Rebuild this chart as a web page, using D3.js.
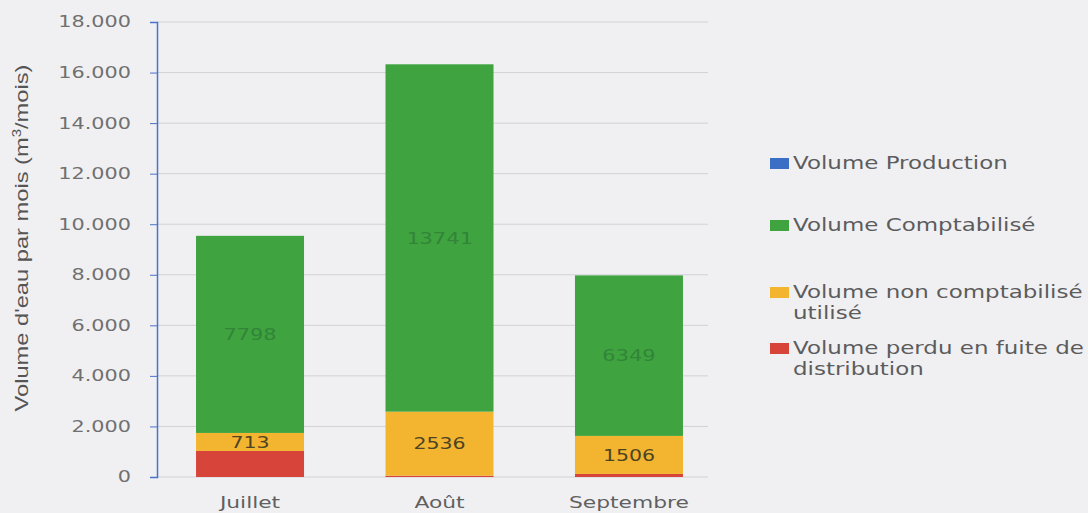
<!DOCTYPE html>
<html>
<head>
<meta charset="utf-8">
<script src="https://cdn.jsdelivr.net/npm/d3@7"></script>
<style>
  body { margin: 0; background: #f0f0f3; }
  svg { display: block; }
</style>
</head>
<body>
<svg id="chart" width="1088" height="513"></svg>
<script>
// data
let months = ["Juillet", "Août", "Septembre"];
let production = [0, 0, 0];
let perdu = [1030, 50, 120];
let nonCompta = [713, 2536, 1506];
let compta = [7798, 13741, 6349];
let yTicks = [0, 2000, 4000, 6000, 8000, 10000, 12000, 14000, 16000, 18000];

let colors = { prod: "#3b6fc6", compta: "#3fa33f", non: "#f3b530", perdu: "#d7453a" };

let svg = d3.select("#chart");

// the photo is wider than tall, so text is stretched a bit
function stretch(sel, k) {
  sel.each(function() {
    let w = this.getComputedTextLength();
    d3.select(this).attr("textLength", w * k).attr("lengthAdjust", "spacingAndGlyphs");
  });
}

let x = d3.scaleBand().domain(months).range([157, 722]).paddingInner(0.43).paddingOuter(0.206);
let y = d3.scaleLinear().domain([0, 18000]).range([477, 22]);

// gridlines
svg.append("g")
  .selectAll("line")
  .data(yTicks)
  .join("line")
  .attr("x1", 157).attr("x2", 708)
  .attr("y1", d => y(d)).attr("y2", d => y(d))
  .attr("stroke", "#d2d2d6").attr("stroke-width", 1);

// y axis
let fmt = d => d === 0 ? "0" : d3.format(",")(d).replace(/,/g, ".");
let yAxis = svg.append("g")
  .attr("transform", "translate(157,0)")
  .call(d3.axisLeft(y).tickValues(yTicks).tickFormat(fmt).tickSize(7).tickPadding(19));
yAxis.select(".domain").attr("stroke", "#4a72c8").attr("stroke-width", 1.5);
yAxis.selectAll(".tick line").attr("stroke", "#4a72c8");
yAxis.selectAll("text")
  .attr("font-family", "DejaVu Sans, Verdana, sans-serif")
  .attr("font-size", 15.5)
  .attr("fill", "#707070")
  .call(stretch, 1.34);

// stacked bars
let stackData = months.map((m, i) => ({ month: m, perdu: perdu[i], non: nonCompta[i], compta: compta[i] }));
let stack = d3.stack().keys(["perdu", "non", "compta"])(stackData);

svg.append("g")
  .selectAll("g")
  .data(stack)
  .join("g")
  .attr("fill", d => colors[d.key])
  .selectAll("rect")
  .data(d => d)
  .join("rect")
  .attr("x", d => x(d.data.month))
  .attr("width", x.bandwidth())
  .attr("y", d => y(d[1]))
  .attr("height", d => y(d[0]) - y(d[1]));

// data labels
stack.filter(s => s.key !== "perdu").forEach(s => {
  svg.append("g")
    .selectAll("text")
    .data(s)
    .join("text")
    .attr("x", d => x(d.data.month) + x.bandwidth() / 2)
    .attr("y", d => (y(d[0]) + y(d[1])) / 2)
    .attr("dy", "0.36em")
    .attr("text-anchor", "middle")
    .attr("font-family", s.key === "compta" ? "DejaVu Sans Mono, monospace" : "DejaVu Sans, Verdana, sans-serif")
    .attr("font-size", 16)
    .attr("fill", s.key === "compta" ? "#2e7a36" : "#4e4322")
    .attr("fill-opacity", s.key === "compta" ? 0.75 : 1)
    .text(d => d.data[s.key])
    .call(stretch, s.key === "compta" ? 1.38 : 1.28);
});

// x labels
svg.append("g")
  .selectAll("text")
  .data(months)
  .join("text")
  .attr("x", d => x(d) + x.bandwidth() / 2)
  .attr("y", 508)
  .attr("text-anchor", "middle")
  .attr("font-family", "DejaVu Sans, Verdana, sans-serif")
  .attr("font-size", 16)
  .attr("fill", "#606060")
  .text(d => d)
  .call(stretch, 1.36);

// y title
svg.append("text")
  .attr("transform", "translate(28,238) rotate(-90)")
  .attr("text-anchor", "middle")
  .attr("font-family", "Liberation Sans Narrow, Arial Narrow, Liberation Sans, sans-serif")
  .attr("font-size", 19)
  .attr("fill", "#555")
  .attr("textLength", 347)
  .attr("lengthAdjust", "spacingAndGlyphs")
  .html("Volume d'eau par mois (m<tspan baseline-shift='super' font-size='12'>3</tspan>/mois)");

// legend
let legendItems = [
  { lines: ["Volume Production"], color: colors.prod, y: 163 },
  { lines: ["Volume Comptabilisé"], color: colors.compta, y: 225 },
  { lines: ["Volume non comptabilisé", "utilisé"], color: colors.non, y: 292 },
  { lines: ["Volume perdu en fuite de", "distribution"], color: colors.perdu, y: 348 }
];
let lg = svg.append("g").selectAll("g").data(legendItems).join("g")
  .attr("transform", d => `translate(770,${d.y})`);
lg.append("rect").attr("x", 0).attr("y", -5).attr("width", 19).attr("height", 11).attr("fill", d => d.color);
lg.selectAll("text")
  .data(d => d.lines)
  .join("text")
  .attr("x", 23)
  .attr("y", (d, i) => i * 21)
  .attr("dy", "0.35em")
  .attr("font-family", "DejaVu Sans, Verdana, sans-serif")
  .attr("font-size", 17)
  .attr("fill", "#5c5c5c")
  .text(d => d)
  .call(stretch, 1.35);
</script>
</body>
</html>
